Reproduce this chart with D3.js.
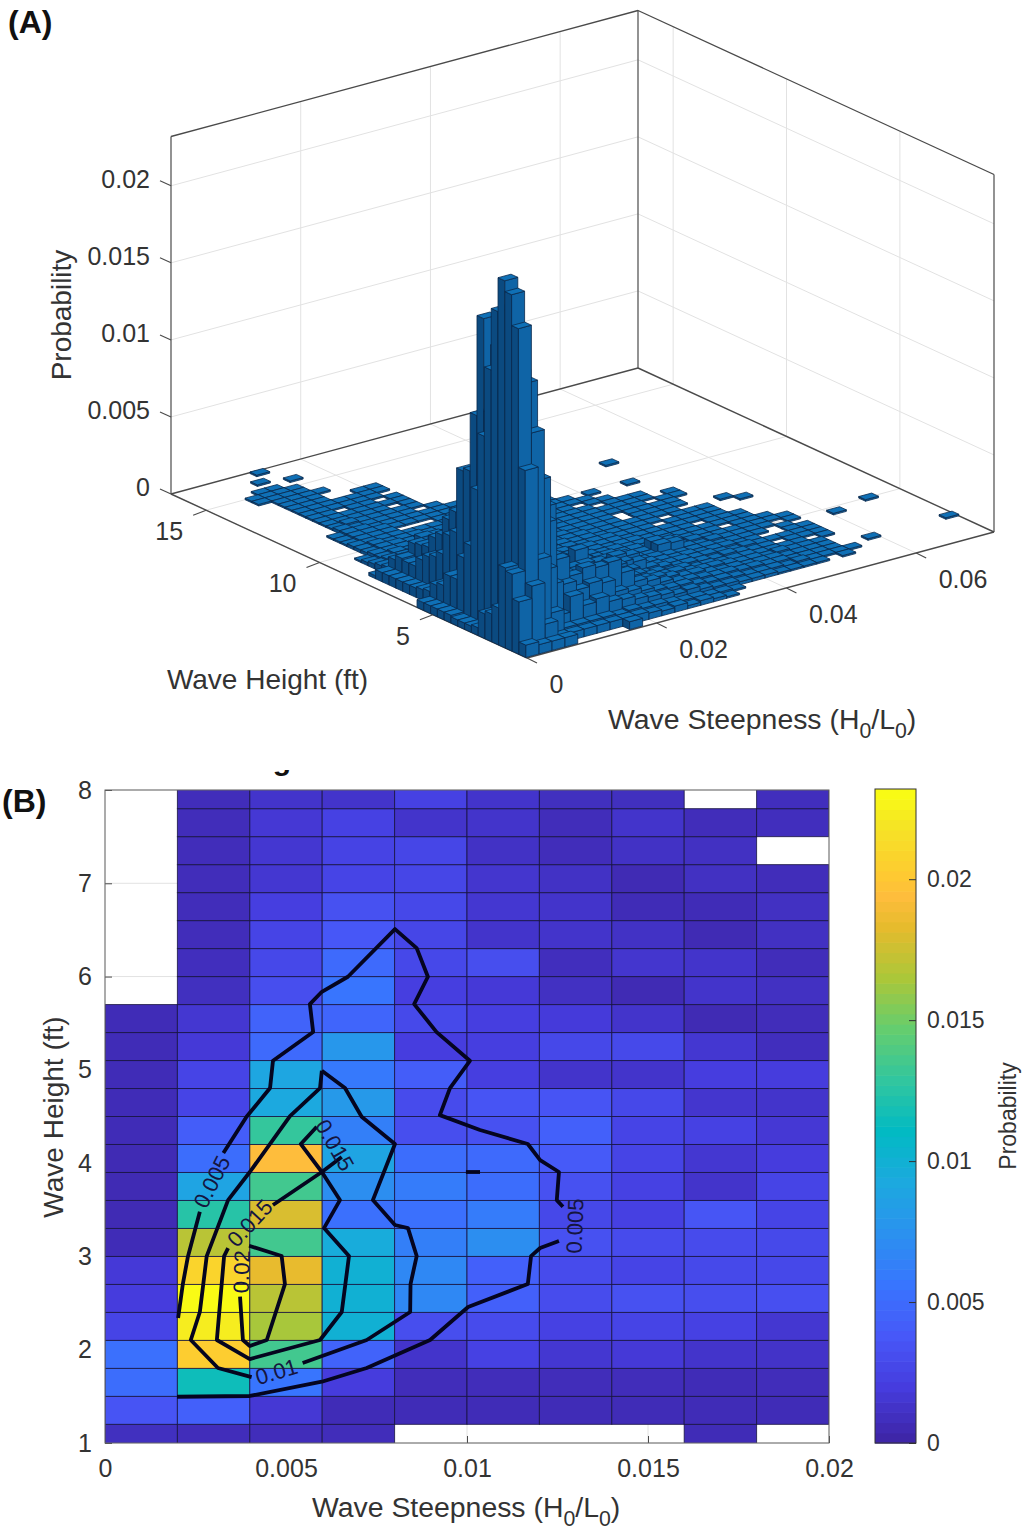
<!DOCTYPE html>
<html><head><meta charset="utf-8">
<script src="https://cdn.jsdelivr.net/npm/d3@7"></script>
<style>html,body{margin:0;padding:0;background:#fff}svg{display:block}text{font-family:"Liberation Sans",Arial,sans-serif;fill:#333}</style>
</head><body><svg id="c" width="1023" height="1534"></svg>
<script>
// ---------- data (probability x 10^4); rows run upward in wave height, columns rightward in steepness
const binX = 0.002, binY = 0.3, firstY = 0.9;
const heatmapE4 = [
 [8,6,6,6,null,null,null,null,5,null],
 [34,42,15,5,5,5,5,5,5,5],
 [50,115,55,18,6,6,6,6,5,6],
 [52,205,135,44,12,22,14,16,12,11],
 [24,225,165,100,30,28,22,24,22,14],
 [18,232,170,100,68,42,29,32,30,31],
 [16,210,185,100,68,42,28,24,27,26],
 [5,170,135,95,62,72,32,28,28,27],
 [4,125,180,52,52,60,26,21,35,24],
 [4,88,135,72,60,50,32,22,12,24],
 [4,50,195,88,50,48,38,24,14,18],
 [5,40,130,62,30,32,42,24,22,15],
 [5,24,92,80,28,34,34,26,13,12],
 [5,24,90,58,40,20,12,12,19,18],
 [5,16,48,78,19,20,26,27,14,7],
 [5,14,44,45,27,20,17,12,4,6],
 [null,8,30,55,20,16,9,4,12,9],
 [null,7,26,48,26,30,7,13,12,6],
 [null,6,24,36,25,12,12,10,4,9],
 [null,6,20,32,26,14,12,5,5,9],
 [null,6,14,24,25,13,10,4,9,6],
 [null,6,14,23,25,10,6,10,9,null],
 [null,6,15,22,12,12,6,12,6,7],
 [null,6,12,12,22,12,8,8,null,7]
];
// tail of the 3-D histogram outside the heatmap window: [row, first column, values]
const tailRows = [
 [1,10,[4,3,4,2,3,2,1]],
 [2,10,[5,5,4,3,3,2,2,1]],
 [3,10,[9,8,7,5,6,4,3,3,2,2,2,1,1,1,1]],[3,26,[1]],
 [4,10,[12,10,8,7,7,5,4,4,3,2,2,2,1,2,1,1,1,1]],
 [5,10,[22,14,12,9,7,6,5,4,4,3,3,2,2,1,1,1,1]],[5,29,[1]],[5,35,[1]],
 [6,10,[20,15,11,10,8,6,6,4,3,3,2,2,2,1,1,1,1]],
 [7,10,[18,16,12,9,7,7,5,4,4,3,2,2,1,2,1,1,1]],
 [8,10,[16,18,13,8,7,5,5,3,3,2,2,2,1,1,1,1,0,1]],
 [9,10,[15,12,16,14,8,6,4,4,3,2,3,2,1,1,0,1,1,1]],
 [10,10,[14,11,18,16,7,5,4,4,3,3,2,1,2,1,1,1,1,1]],
 [11,10,[12,9,12,14,7,5,4,3,3,2,2,2,1,1,0,0,1,1]],
 [12,10,[10,9,8,6,6,4,4,3,2,2,2,1,1,1,1,0,1,0]],[12,30,[1]],
 [13,10,[9,8,7,6,5,4,3,8,7,2,1,2,1,1,1,1,0,1]],[13,33,[1]],
 [14,10,[8,7,6,5,4,3,3,8,6,1,2,1,1,1,1,1,1,1]],
 [15,10,[7,6,6,4,4,3,3,2,1,2,1,1,1,0,1,1,1]],
 [16,10,[6,5,5,4,3,3,2,2,1,1,1,1,1,1,1,1]],
 [17,10,[6,5,4,3,3,2,2,2,1,1,1,1,0,1,1,1]],
 [18,10,[5,4,4,3,3,2,2,1,1,1,1,1,1,1,1]],
 [19,10,[5,4,3,3,2,2,2,1,1,1,0,1,1,1,1]],
 [20,10,[4,4,3,3,2,2,1,1,1,1,1,0,1,1,1]],[20,27,[1]],
 [21,10,[4,3,3,2,2,2,1,1,1,1,1,1,1]],[21,26,[1]],
 [22,10,[3,3,2,2,2,1,1,1,1,0,1,1,1,1]],
 [23,10,[3,3,2,2,1,1,1,1,1,0,1,1,1,1]],
 [24,1,[2,5,6,6,4,4,3,3,2,2,2,2,1,1,1,1,1,1,1,1,1,0,1,1]],
 [25,2,[4,5,5,4,3,3,2,2,2,2,1,2,1,1,1,1,1,1,1,1,1,0,1]],
 [26,2,[3,4,4,4,3,3,2,2,2,1,1,1,1,1,1,1,1,0,1,1,1]],
 [27,2,[2,3,4,3,3,2,2,2,1,1,1,1,1,1,1,1,0,1,1]],
 [28,2,[1,3,3,3,2,2,2,1,1,1,1,1,1,1,0,1,1,1]],
 [29,3,[2,3,3,2,2,2,1,1,1,1,1,0,1,1,1,1]],[29,20,[1]],[29,23,[1]],
 [30,3,[2,3,2,2,2,1,1,1,1,1,1,0,1,1,1]],
 [31,3,[2,2,2,2,1,1,1,1,1,1,0,1,1,1]],
 [32,3,[1,2,2,2,0,0,0,1,1,1,1,1,0,1]],
 [33,3,[1,2,2,2,1,1,1,1,1,1,1]],
 [34,3,[1,2,2,1,1,1,1,1,1,1]],[34,24,[1]],
 [35,4,[2,1,1,1,1,1,0,1]],
 [36,4,[1,2,1,1,1,1,1]],
 [37,4,[1,1,1,1,1,0,1]],
 [38,4,[1,1,1,1,1,1,1]],
 [39,4,[1,1,0,1,1,0,1]],
 [40,4,[1,1,1,1,1,1]],
 [41,4,[1,1,1,1,1,1,1]],
 [42,4,[1,1,1,0,0,1,1]],
 [43,4,[1,1,1,0,0]],
 [44,4,[1,1,1,1]],
 [45,3,[1,1,1,1]],
 [46,3,[1,1,1,1]],
 [47,4,[1,1]],
 [48,7,[1]],
 [49,5,[1]],
 [51,6,[1]]
];
// contour polylines in data units [steepness, wave height]
const contour005 = [
 [[.00327,4.108],[.00391,4.497],[.00456,4.805],[.00464,5.097],[.00575,5.405],[.00566,5.705],[.00599,5.837],[.00671,5.998],[.00801,6.509],[.00861,6.305],[.00892,5.998],[.00854,5.705],[.00916,5.405],[.01008,5.097],[.00953,4.805],[.00925,4.515],[.01036,4.355],[.01168,4.205],[.01202,4.033],[.01254,3.905],[.01248,3.604],[.01265,3.533]],
 [[.01254,3.165],[.01202,3.09],[.01177,3.004],[.01168,2.704],[.01003,2.458],[.00898,2.104],[.00723,1.804],[.00599,1.657],[.004,1.504],[.00199,1.496]],
 [[.00262,3.479],[.00229,2.997],[.00215,2.704],[.00202,2.34]],
 [[.00997,3.905],[.01036,3.905]]
];
const contour010 = [
 [[.00599,4.99],[.00594,4.805],[.00511,4.505],[.004,3.905],[.0034,3.604],[.00281,3.004],[.00262,2.404],[.00237,2.104],[.00312,1.804],[.00405,1.707]],
 [[.00546,1.857],[.00723,2.104],[.00843,2.404],[.00844,2.704],[.00861,3.004],[.00837,3.304],[.00801,3.337],[.0074,3.604],[.00801,4.205],[.00709,4.497],[.00663,4.805],[.00599,4.99]]
];
const contour015 = [
 [[.00585,4.39],[.00541,4.205],[.00599,3.905],[.00649,3.604],[.00605,3.304],[.00674,3.004],[.00654,2.404],[.00594,2.104],[.004,1.9],[.00309,2.104],[.00329,3.004],[.0034,3.09]],
 [[.00464,3.551],[.00599,3.905],[.00654,4.065]]
];
const contour020 = [
 [[.00373,2.568],[.00381,2.104],[.004,2.04],[.00447,2.104],[.00497,2.704],[.00488,3.004],[.00398,3.115]]
];
const contourLabels = [
 ["0.005",.00295,3.80,-63],["0.005",.01298,3.326,-88],["0.01",.00474,1.764,-17],
 ["0.015",.00635,4.194,60],["0.015",.0040,3.358,-47],["0.02",.00377,2.836,-88]
];
const steepTicksA = [0,0.02,0.04,0.06], heightTicksA = [5,10,15], probTicks = [0,0.005,0.01,0.015,0.02];
const steepTicksB = [0,0.005,0.01,0.015,0.02], heightTicksB = [1,2,3,4,5,6,7,8];
const zMax = 0.0232;
const parulaStops = ["#3e26a8","#463cde","#4758f8","#3875fe","#2b91ef","#1ca9df","#02bac3","#31c69f","#64cd6f","#abc739","#e6bb2d","#febd3c","#fec932","#f5e524","#f9fb15"];
const parulaIdx = [0,5,10,15,20,25,30,35,40,45,50,53,55,60,63];

// ---------- shared
const svg = d3.select("#c");
const color = d3.scaleLinear().domain(parulaIdx.map(i=>i/63*zMax)).range(parulaStops).interpolate(d3.interpolateRgb).clamp(true);
const INK = "#333";
function subTitle(g, a, b, size){
  const t = g.append("text").attr("font-size",size).attr("x",a).attr("y",b);
  t.append("tspan").text("Wave Steepness (H");
  t.append("tspan").attr("dy",9).attr("font-size",size*.75).text("0");
  t.append("tspan").attr("dy",-9).text("/L");
  t.append("tspan").attr("dy",9).attr("font-size",size*.75).text("0");
  t.append("tspan").attr("dy",-9).text(")");
}
svg.append("text").attr("x",8).attr("y",33).attr("font-size",32).attr("font-weight","bold").style("fill","#111").text("(A)");
svg.append("text").attr("x",2).attr("y",812).attr("font-size",32).attr("font-weight","bold").style("fill","#111").text("(B)");

// ---------- panel A
const A = svg.append("g");
const sx = d3.scaleLinear().domain([0,0.072]).range([0,1]);
const sy = d3.scaleLinear().domain([0.85,16.55]).range([0,1]);
const sz = d3.scaleLinear().domain([0,zMax]).range([0,357.5]);
const O = [527,658], EX = [467,-126], EY = [-356,-164];
function P(x,y,z){ const a=sx(x), b=sy(y);
  return [O[0]+a*EX[0]+b*EY[0], O[1]+a*EX[1]+b*EY[1]-sz(z)]; }
const xM=sx.domain()[1], yM=sy.domain()[1], y0=sy.domain()[0];
const ln = d3.line();
function seg(p,q,stroke,w){ A.append("path").attr("d",ln([p,q])).attr("fill","none").attr("stroke",stroke).attr("stroke-width",w); }
const GRID="#e2e2e2", BOX="#4a4a4a";
// grid on walls and floor
steepTicksA.forEach(t=>{ if(t>0){ seg(P(t,yM,0),P(t,yM,zMax),GRID,1);} seg(P(t,y0,0),P(t,yM,0),GRID,1); });
heightTicksA.forEach(t=>{ seg(P(xM,t,0),P(xM,t,zMax),GRID,1); seg(P(0,t,0),P(xM,t,0),GRID,1); });
probTicks.forEach(t=>{ if(t>0){ seg(P(0,yM,t),P(xM,yM,t),GRID,1); seg(P(xM,yM,t),P(xM,y0,t),GRID,1);} });
// box
seg(P(0,yM,0),P(0,yM,zMax),BOX,1.2);
seg(P(xM,yM,0),P(xM,yM,zMax),BOX,1.2);
seg(P(xM,y0,0),P(xM,y0,zMax),BOX,1.2);
seg(P(0,yM,zMax),P(xM,yM,zMax),BOX,1.3);
seg(P(xM,yM,zMax),P(xM,y0,zMax),BOX,1.3);
seg(P(0,yM,0),P(xM,yM,0),BOX,1.4);
seg(P(xM,yM,0),P(xM,y0,0),BOX,1.4);
seg(P(0,y0,0),P(0,yM,0),BOX,1.4);
seg(P(0,y0,0),P(xM,y0,0),BOX,1.4);
// bars
const bars=[];
heatmapE4.forEach((row,j)=>row.forEach((v,c)=>{ if(v) bars.push({j,c,v:v/1e4}); }));
tailRows.forEach(([j,c0,vals])=>vals.forEach((v,i)=>{ if(v) bars.push({j,c:c0+i,v:v/1e4}); }));
bars.sort((a,b)=> (b.j-a.j)||(b.c-a.c));
const poly = pts => "M"+pts.map(p=>p[0].toFixed(2)+","+p[1].toFixed(2)).join("L")+"Z";
const gb = A.append("g").attr("stroke","#0a2a4c").attr("stroke-width",.8).attr("stroke-linejoin","round");
bars.forEach(b=>{
  const x0=b.c*binX, x1=x0+binX, y_0=firstY+b.j*binY, y1=y_0+binY, z=b.v;
  gb.append("path").attr("d",poly([P(x0,y_0,0),P(x0,y1,0),P(x0,y1,z),P(x0,y_0,z)])).attr("fill","#0b4a80");
  gb.append("path").attr("d",poly([P(x0,y_0,0),P(x1,y_0,0),P(x1,y_0,z),P(x0,y_0,z)])).attr("fill","#0f64a6");
  gb.append("path").attr("d",poly([P(x0,y_0,z),P(x1,y_0,z),P(x1,y1,z),P(x0,y1,z)])).attr("fill","#0f70b6");
});
// ticks and tick labels
const tf=25;
steepTicksA.forEach(t=>{ const p=P(t,y0,0); seg(p,[p[0]+10,p[1]+5],BOX,1.1);
  A.append("text").attr("x",p[0]+22.5).attr("y",p[1]+35).attr("font-size",tf).text(t===0?"0":t); });
heightTicksA.forEach(t=>{ const p=P(0,t,0); seg(p,[p[0]-13,p[1]+5],BOX,1.1);
  A.append("text").attr("x",p[0]-23).attr("y",p[1]+30).attr("text-anchor","end").attr("font-size",tf).text(t); });
probTicks.forEach(t=>{ const p=P(0,yM,t); seg(p,[p[0]-11,p[1]-5],BOX,1.1);
  A.append("text").attr("x",150).attr("y",p[1]+2).attr("text-anchor","end").attr("font-size",tf).text(t===0?"0":t); });
A.append("text").attr("x",267.5).attr("y",689).attr("text-anchor","middle").attr("font-size",28).text("Wave Height (ft)");
A.append("text").attr("transform","translate(71,315) rotate(-90)").attr("text-anchor","middle").attr("font-size",28).text("Probability");
subTitle(A,608,729,28.4);

// ---------- panel B
const B = svg.append("g");
const x = d3.scaleLinear().domain([0,0.02]).range([105,829]);
const y = d3.scaleLinear().domain([1,8]).range([1443,790]);
const defs = svg.append("defs");
defs.append("clipPath").attr("id","plot").append("rect").attr("x",105).attr("y",790).attr("width",724).attr("height",653);
defs.append("clipPath").attr("id","cut").append("rect").attr("x",260).attr("y",770).attr("width",40).attr("height",15);
B.append("text").attr("x",282).attr("y",770).attr("text-anchor","middle").attr("font-size",30).attr("font-weight","bold").attr("clip-path","url(#cut)").style("fill","#111").text("g");
// grid
heightTicksB.forEach(t=>B.append("line").attr("x1",105).attr("x2",829).attr("y1",y(t)).attr("y2",y(t)).attr("stroke",GRID));
steepTicksB.forEach(t=>B.append("line").attr("y1",790).attr("y2",1443).attr("x1",x(t)).attr("x2",x(t)).attr("stroke",GRID));
// axes
const ax = B.append("g").attr("transform","translate(0,1443)").call(d3.axisBottom(x).tickValues(steepTicksB).tickFormat(d=>d===0?"0":d).tickSizeInner(-7).tickSizeOuter(0).tickPadding(16));
const ay = B.append("g").attr("transform","translate(105,0)").call(d3.axisLeft(y).tickValues(heightTicksB).tickFormat(d3.format("d")).tickSizeInner(-7).tickSizeOuter(0).tickPadding(13));
[ax,ay].forEach(g=>{ g.select(".domain").remove(); g.selectAll("text").attr("font-size",tf).attr("font-family",null).style("fill",INK); g.selectAll("line").attr("stroke",BOX); });
// cells
const gc = B.append("g").attr("clip-path","url(#plot)");
heatmapE4.forEach((row,j)=>row.forEach((v,c)=>{
  if(v===null) return;
  const yTop=firstY+(j+1)*binY, yBot=firstY+j*binY;
  gc.append("rect").attr("x",x(c*binX)).attr("width",x((c+1)*binX)-x(c*binX))
    .attr("y",y(yTop)).attr("height",y(yBot)-y(yTop))
    .attr("fill",color(v/1e4)).attr("stroke","#17133f").attr("stroke-opacity",.8).attr("stroke-width",1);
}));
B.append("rect").attr("x",105).attr("y",790).attr("width",724).attr("height",653).attr("fill","none").attr("stroke","#666").attr("stroke-width",1);
// contours
const cl = d3.line().x(d=>x(d[0])).y(d=>y(d[1]));
[contour005,contour010,contour015,contour020].forEach(set=>set.forEach(pts=>{
  B.append("path").attr("d",cl(pts)).attr("fill","none").attr("stroke","#05051f").attr("stroke-width",3.8).attr("stroke-linejoin","round");
}));
contourLabels.forEach(([t,a,b,r])=>{
  B.append("text").attr("transform",`translate(${x(a)},${y(b)}) rotate(${r})`).attr("text-anchor","middle").attr("dy","0.35em")
   .attr("font-size",22).style("fill","#151540").text(t);
});
B.append("text").attr("transform","translate(63,1117) rotate(-90)").attr("text-anchor","middle").attr("font-size",28).text("Wave Height (ft)");
subTitle(B,312,1517,28.4);
// colorbar
const cb = d3.scaleLinear().domain([0,zMax]).range([1443,789]);
const gcb = B.append("g");
d3.range(64).forEach(i=>{
  const v0=i/64*zMax, v1=(i+1)/64*zMax;
  gcb.append("rect").attr("x",875).attr("width",41).attr("y",cb(v1)).attr("height",cb(v0)-cb(v1)+.6).attr("fill",color(i/63*zMax));
});
const ac = B.append("g").attr("transform","translate(916,0)").call(d3.axisRight(cb).tickValues(probTicks).tickFormat(d=>d===0?"0":d).tickSizeInner(-7).tickSizeOuter(0).tickPadding(11));
ac.select(".domain").remove(); ac.selectAll("text").attr("font-size",23).attr("font-family",null).style("fill",INK); ac.selectAll("line").attr("stroke","#333");
B.append("rect").attr("x",875).attr("y",789).attr("width",41).attr("height",654).attr("fill","none").attr("stroke","#333");
B.append("text").attr("transform","translate(1016,1116) rotate(-90)").attr("text-anchor","middle").attr("font-size",23).text("Probability");
</script></body></html>
